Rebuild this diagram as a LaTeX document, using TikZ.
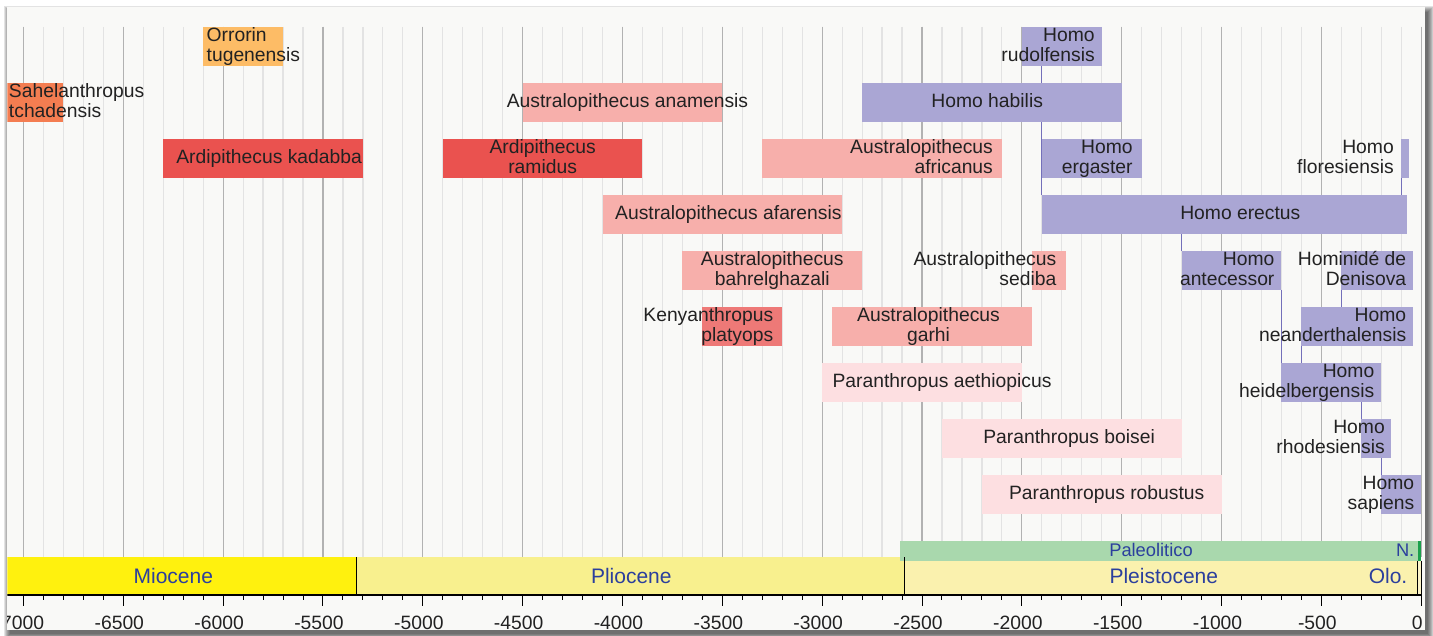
\documentclass[tikz,border=0pt]{standalone}
\usepackage{fontspec}
\setmainfont{Liberation Sans}
\usetikzlibrary{fit}
\pgfdeclarelayer{bglayer}
\pgfdeclarelayer{gridlayer}
\pgfdeclarelayer{linklayer}
\pgfsetlayers{bglayer,gridlayer,linklayer,main}
\definecolor{panelbg}{HTML}{F9F9F7}
\definecolor{gridmin}{HTML}{E3E3E3}
\definecolor{gridmaj}{HTML}{B2B2B2}
\definecolor{orrorincol}{HTML}{FDBC66}
\definecolor{sahelcol}{HTML}{F47D51}
\definecolor{ardi}{HTML}{EA524F}
\definecolor{kenya}{HTML}{EE7977}
\definecolor{austral}{HTML}{F7AFAB}
\definecolor{para}{HTML}{FDDFE1}
\definecolor{homo}{HTML}{AAA6D4}
\definecolor{conn}{HTML}{7470BA}
\definecolor{mioc}{HTML}{FFF10E}
\definecolor{plioc}{HTML}{F8F08E}
\definecolor{pleist}{HTML}{FAF1AE}
\definecolor{holo}{HTML}{FBF3C8}
\definecolor{paleo}{HTML}{A9D8AD}
\definecolor{neo}{HTML}{1BA04C}
\definecolor{eptxt}{HTML}{2B3F9D}
\definecolor{txt}{HTML}{222222}
\tikzset{
  sp/.style={rectangle, inner sep=0pt, outer sep=0pt, draw=none},
  lab/.style={inner sep=0pt, outer sep=0pt, text=txt, font=\fontsize{19.3}{20}\selectfont},
  link/.style={draw=conn, line width=1.3pt},
  gmin/.style={draw=gridmin, line width=1.2pt},
  gmaj/.style={draw=gridmaj, line width=1.2pt},
  tickline/.style={draw=black, line width=1pt},
  epline/.style={draw=black, line width=1.3pt},
  eplab/.style={inner sep=0pt, text=eptxt, font=\fontsize{21}{24}\selectfont},
  eplabs/.style={inner sep=0pt, text=eptxt, font=\fontsize{18.3}{20}\selectfont},
  ticklab/.style={inner sep=0pt, text=txt, font=\fontsize{19.3}{20}\selectfont},
}
\begin{document}
\begin{tikzpicture}[x=1pt, y=-1pt]
\useasboundingbox (0,0) rectangle (1433,635);
\begin{pgfonlayer}{bglayer}
\fill[white] (0,0) rectangle (1433,635);
\foreach \e in {0,...,6}
  \fill[black, opacity=0.11] ({10.3-\e},{11.7-\e}) rectangle ({1428+\e},{634+\e});
\fill[panelbg] (7.3,6.7) rectangle (1425,630);
\end{pgfonlayer}

\begin{scope}
\clip (7.3,6.7) rectangle (1425,630);
\begin{scope}[xshift=1421.2pt, x=0.19967pt]
% grid
\begin{pgfonlayer}{gridlayer}
\foreach \t in {-7000,-6900,...,0}
  \draw[gmin] (\t,26.7) -- (\t,557.3);
\foreach \t in {-7000,-6500,...,0}
  \draw[gmaj] (\t,26.7) -- (\t,557.3);
\end{pgfonlayer}

% species bars
\node[sp, fill=orrorincol, fit={(-6100,26.7)(-5700,65.7)}] (orrorin) {};
\node[sp, fill=homo, fit={(-2000,26.7)(-1600,65.7)}] (rudolfensis) {};
\node[sp, fill=sahelcol, fit={(-7090,82.7)(-6800,121.7)}] (sahel) {};
\node[sp, fill=austral, fit={(-4500,82.7)(-3500,121.7)}] (anamensis) {};
\node[sp, fill=homo, fit={(-2800,82.7)(-1500,121.7)}] (habilis) {};
\node[sp, fill=ardi, fit={(-6300,138.7)(-5300,177.7)}] (kadabba) {};
\node[sp, fill=ardi, fit={(-4900,138.7)(-3900,177.7)}] (ramidus) {};
\node[sp, fill=austral, fit={(-3300,138.7)(-2100,177.7)}] (africanus) {};
\node[sp, fill=homo, fit={(-1900,138.7)(-1400,177.7)}] (ergaster) {};
\node[sp, fill=homo, fit={(-100,138.7)(-60,177.7)}] (floresiensis) {};
\node[sp, fill=austral, fit={(-4100,194.7)(-2900,233.7)}] (afarensis) {};
\node[sp, fill=homo, fit={(-1900,194.7)(-70,233.7)}] (erectus) {};
\node[sp, fill=austral, fit={(-3700,250.7)(-2800,289.7)}] (bahrel) {};
\node[sp, fill=austral, fit={(-1950,250.7)(-1780,289.7)}] (sediba) {};
\node[sp, fill=homo, fit={(-1200,250.7)(-700,289.7)}] (antecessor) {};
\node[sp, fill=homo, fit={(-400,250.7)(-40,289.7)}] (denisova) {};
\node[sp, fill=kenya, fit={(-3600,306.7)(-3200,345.7)}] (kenyan) {};
\node[sp, fill=austral, fit={(-2950,306.7)(-1950,345.7)}] (garhi) {};
\node[sp, fill=homo, fit={(-600,306.7)(-40,345.7)}] (neander) {};
\node[sp, fill=para, fit={(-3000,362.7)(-2000,401.7)}] (aethiopicus) {};
\node[sp, fill=homo, fit={(-700,362.7)(-200,401.7)}] (heidelberg) {};
\node[sp, fill=para, fit={(-2400,418.7)(-1200,457.7)}] (boisei) {};
\node[sp, fill=homo, fit={(-300,418.7)(-150,457.7)}] (rhodesiensis) {};
\node[sp, fill=para, fit={(-2200,474.7)(-1000,513.7)}] (robustus) {};
\node[sp, fill=homo, fit={(-200,474.7)(0,513.7)}] (sapiens) {};

% connectors
\begin{pgfonlayer}{linklayer}
\draw[link] (erectus.north west |- rudolfensis.south) -- (erectus.north west);
\draw[link] (floresiensis.south west) -- (floresiensis.south west |- erectus.north);
\draw[link] (antecessor.north west |- erectus.south) -- (antecessor.north west);
\draw[link] (antecessor.south east) -- (antecessor.south east |- heidelberg.north);
\draw[link] (denisova.south west) -- (denisova.south west |- neander.north);
\draw[link] (neander.south west) -- (neander.south west |- heidelberg.north);
\draw[link] (rhodesiensis.north west |- heidelberg.south) -- (rhodesiensis.north west);
\draw[link] (sapiens.north west |- rhodesiensis.south) -- (sapiens.north west);
\end{pgfonlayer}

% species labels (two-line labels: base = last line)
\node[lab, anchor=base west, align=left] (orrorin-t) at ([xshift=3.5pt, yshift=-15.3pt]orrorin.west) {Orrorin\\tugenensis};
\node[lab, anchor=base east, align=right] (rudolfensis-t) at ([xshift=-7pt, yshift=-15.3pt]rudolfensis.east) {Homo\\rudolfensis};
\node[lab, anchor=base west, align=left] (sahel-t) at ([xshift=3.5pt, yshift=-15.3pt]sahel.west) {Sahelanthropus\\tchadensis};
\node[lab, anchor=base] (anamensis-t) at ([xshift=5pt, yshift=-5.7pt]anamensis.center) {Australopithecus anamensis};
\node[lab, anchor=base] (habilis-t) at ([xshift=-4.7pt, yshift=-5.7pt]habilis.center) {Homo habilis};
\node[lab, anchor=base] (kadabba-t) at ([xshift=6pt, yshift=-5.7pt]kadabba.center) {Ardipithecus kadabba};
\node[lab, anchor=base, align=center] (ramidus-t) at ([yshift=-15.3pt]ramidus.center) {Ardipithecus\\ramidus};
\node[lab, anchor=base east, align=right] (africanus-t) at ([xshift=-9pt, yshift=-15.3pt]africanus.east) {Australopithecus\\africanus};
\node[lab, anchor=base east, align=right] (ergaster-t) at ([xshift=-9pt, yshift=-15.3pt]ergaster.east) {Homo\\ergaster};
\node[lab, anchor=base east, align=right] (floresiensis-t) at ([xshift=-7.5pt, yshift=-15.3pt]floresiensis.west) {Homo\\floresiensis};
\node[lab, anchor=base] (afarensis-t) at ([xshift=6pt, yshift=-5.7pt]afarensis.center) {Australopithecus afarensis};
\node[lab, anchor=base] (erectus-t) at ([xshift=15.8pt, yshift=-5.7pt]erectus.center) {Homo erectus};
\node[lab, anchor=base, align=center] (bahrel-t) at ([yshift=-15.3pt]bahrel.center) {Australopithecus\\bahrelghazali};
\node[lab, anchor=base east, align=right] (sediba-t) at ([xshift=-9.5pt, yshift=-15.3pt]sediba.east) {Australopithecus\\sediba};
\node[lab, anchor=base east, align=right] (antecessor-t) at ([xshift=-7pt, yshift=-15.3pt]antecessor.east) {Homo\\antecessor};
\node[lab, anchor=base east, align=right] (denisova-t) at ([xshift=-7pt, yshift=-15.3pt]denisova.east) {Hominidé de\\Denisova};
\node[lab, anchor=base east, align=right] (kenyan-t) at ([xshift=-9pt, yshift=-15.3pt]kenyan.east) {Kenyanthropus\\platyops};
\node[lab, anchor=base, align=center] (garhi-t) at ([xshift=-3.5pt, yshift=-15.3pt]garhi.center) {Australopithecus\\garhi};
\node[lab, anchor=base east, align=right] (neander-t) at ([xshift=-7pt, yshift=-15.3pt]neander.east) {Homo\\neanderthalensis};
\node[lab, anchor=base] (aethiopicus-t) at ([xshift=20pt, yshift=-5.7pt]aethiopicus.center) {Paranthropus aethiopicus};
\node[lab, anchor=base east, align=right] (heidelberg-t) at ([xshift=-7pt, yshift=-15.3pt]heidelberg.east) {Homo\\heidelbergensis};
\node[lab, anchor=base] (boisei-t) at ([xshift=7.3pt, yshift=-5.7pt]boisei.center) {Paranthropus boisei};
\node[lab, anchor=base east, align=right] (rhodesiensis-t) at ([xshift=-6.5pt, yshift=-15.3pt]rhodesiensis.east) {Homo\\rhodesiensis};
\node[lab, anchor=base] (robustus-t) at ([xshift=5pt, yshift=-5.7pt]robustus.center) {Paranthropus robustus};
\node[lab, anchor=base east, align=right] (sapiens-t) at ([xshift=-7pt, yshift=-15.3pt]sapiens.east) {Homo\\sapiens};

% epoch bars
\node[sp, fill=mioc, fit={(-7090,557.3)(-5333,595)}] (miocene) {};
\node[sp, fill=plioc, fit={(-5333,557.3)(-2588,595)}] (pliocene) {};
\node[sp, fill=pleist, fit={(-2588,560.7)(-18,595)}] (pleistocene) {};
\node[sp, fill=holo, fit={(-18,560.7)(0,595)}] (holocene) {};
\node[sp, fill=paleo, fit={(-2610,540.7)(-18,560.7)}] (paleolithic) {};
\node[sp, fill=neo, fit={(-18,540.7)(0,560.7)}] (neolithic) {};
\draw[epline] (pliocene.north west) -- (pliocene.south west);
\draw[epline] (pleistocene.west |- pliocene.north) -- (pleistocene.south west);
\draw[epline] (holocene.north west) -- (holocene.south west);
\draw[epline] (holocene.north east) -- (holocene.south east);
\draw[epline] (miocene.south west) -- (holocene.south east);

% ticks and tick labels
\foreach \t in {-7000,-6900,...,0}
  \draw[tickline] (\t,595) -- (\t,600);
\foreach \t in {-7000,-6500,...,0}{
  \draw[tickline] (\t,595) -- (\t,605.5);
  \node[ticklab, anchor=base] (tl\t) at ([xshift=-4pt]\t,629.5) {\t};
}
\end{scope}

% epoch labels
\node[eplab, anchor=base] (miocene-t) at (173.3,583.3) {Miocene};
\node[eplab, anchor=base] (pliocene-t) at (631.3,583.3) {Pliocene};
\node[eplab, anchor=base] (pleistocene-t) at (1163.8,583.3) {Pleistocene};
\node[eplab, anchor=base east] (holocene-t) at (1407.5,583.3) {Olo.};
\node[eplabs, anchor=base] (paleolithic-t) at (1151,556.7) {Paleolitico};
\node[eplabs, anchor=base east] (neolithic-t) at (1414.5,556.7) {N.};
\end{scope}
\end{tikzpicture}
\end{document}
